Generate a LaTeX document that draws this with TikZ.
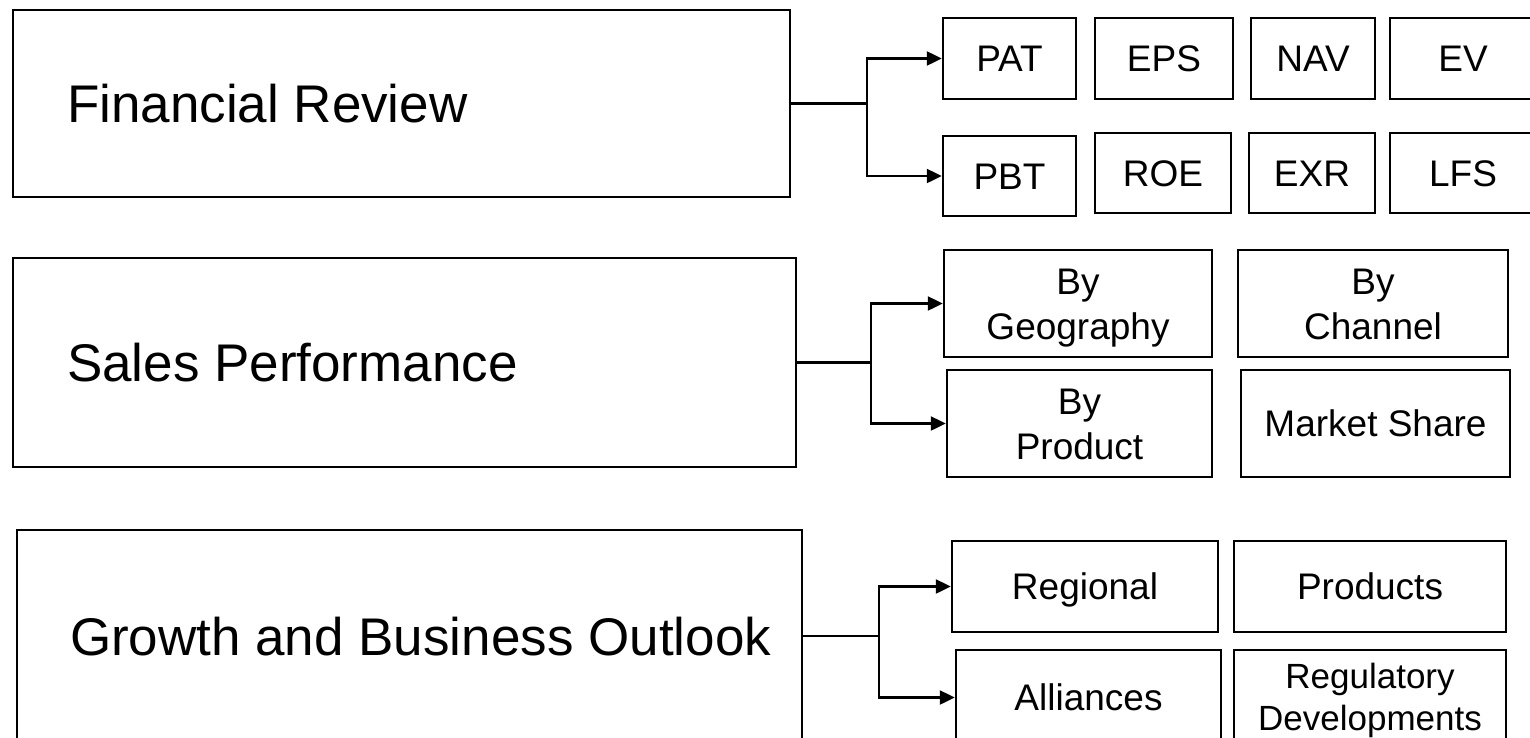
\documentclass[tikz,border=0pt]{standalone}
\usepackage{fontspec}
\setmainfont{Liberation Sans}
\usetikzlibrary{arrows.meta}
\newcommand\twoline[2]{\begin{tabular}{@{}c@{}}\rule{0pt}{40pt}#1\\#2\end{tabular}}
\begin{document}
\begin{tikzpicture}[x=1pt,y=-1pt,
  bigbox/.style={draw, line width=2.4pt, inner sep=0pt, font=\fontsize{53}{64}\selectfont, text height=42pt, text depth=4pt},
  sbox/.style={draw, line width=2.4pt, inner sep=0pt, font=\fontsize{37}{45}\selectfont},
  one/.style={sbox, text height=30pt, text depth=3.5pt},
  conn/.style={line width=2.2pt},
  arr/.style={conn, -{Triangle[length=15pt,width=14pt]}}]
\useasboundingbox (0,0) rectangle (1530,737);
\clip (0,0) rectangle (1530,737);

% main boxes
\node[bigbox, minimum width=777pt, minimum height=187pt] (FR) at (401.5,103.5)
  {\makebox[777pt][l]{\hspace{54pt}Financial Review}};
\node[bigbox, minimum width=783pt, minimum height=209pt] (SP) at (404.5,362.5)
  {\makebox[783pt][l]{\hspace{54pt}Sales Performance}};
\node[bigbox, minimum width=785pt, minimum height=212pt] (GO) at (409.5,636)
  {\makebox[785pt][l]{\hspace{53pt}Growth and Business Outlook}};

% financial review items
\node[one, minimum width=133pt, minimum height=81pt] (PAT) at (1009.5,58.5) {PAT};
\node[one, minimum width=138pt, minimum height=81pt] (EPS) at (1164,58.5) {EPS};
\node[one, minimum width=124pt, minimum height=81pt] (NAV) at (1313,58.5) {NAV};
\node[one, minimum width=146pt, minimum height=81pt] (EV) at (1463,58.5) {EV};
\node[one, minimum width=133pt, minimum height=80pt] (PBT) at (1009.5,176) {PBT};
\node[one, minimum width=136pt, minimum height=80pt] (ROE) at (1163,173) {ROE};
\node[one, minimum width=126pt, minimum height=80pt] (EXR) at (1312,173) {EXR};
\node[one, minimum width=146pt, minimum height=80pt] (LFS) at (1463,173) {LFS};

% sales performance items
\node[sbox, minimum width=268pt, minimum height=107pt] (GEO) at (1078,303.5) {\twoline{By}{Geography}};
\node[sbox, minimum width=270pt, minimum height=107pt] (CHA) at (1373,303.5) {\twoline{By}{Channel}};
\node[sbox, minimum width=265pt, minimum height=107pt] (PRO) at (1079.5,423.5) {\twoline{By}{Product}};
\node[one, minimum width=269pt, minimum height=107pt] (MKT) at (1375.5,423.5) {Market Share};

% growth items
\node[one, minimum width=266pt, minimum height=91pt] (REG) at (1085,586.5) {Regional};
\node[one, minimum width=272pt, minimum height=91pt] (PRS) at (1370,586.5) {Products};
\node[one, minimum width=265pt, minimum height=95pt] (ALL) at (1088.5,697.5) {Alliances};
\node[sbox, font=\fontsize{35}{42}\selectfont, minimum width=272pt, minimum height=95pt] (RGD) at (1370,697.5)
  {\begin{tabular}{@{}c@{}}\rule{0pt}{37pt}Regulatory\\Developments\end{tabular}};

% connectors
\coordinate (j1) at (867,103.5);
\coordinate (j2) at (871,362.5);
\coordinate (j3) at (879,636);
\draw[conn] (FR.east) -- (j1);
\draw[arr] (j1) |- (PAT.west);
\draw[arr] (j1) |- (PBT.west);
\draw[conn] (SP.east) -- (j2);
\draw[arr] (j2) |- (GEO.west);
\draw[arr] (j2) |- (PRO.west);
\draw[conn] (GO.east) -- (j3);
\draw[arr] (j3) |- (REG.west);
\draw[arr] (j3) |- (ALL.west);
\end{tikzpicture}
\end{document}
